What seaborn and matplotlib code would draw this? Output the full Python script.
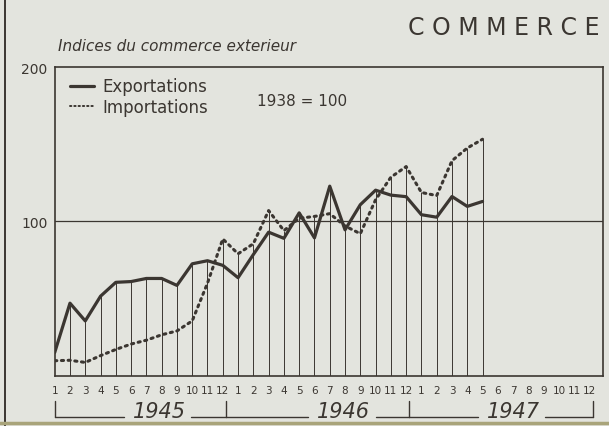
import matplotlib
matplotlib.use("Agg")
import matplotlib.pyplot as plt
import matplotlib.transforms as mtransforms
import numpy as np
import pandas as pd
import seaborn as sns

# indices mensuels, base 1938 = 100 (janv. 1945 -> mai 1947)
exportations = [15, 47, 35.5, 51.5, 60.5, 61, 63, 63, 58.5, 72.5, 74.5, 71.5,
                 63.5, 78.5, 93, 89, 105.5, 89.3, 122.8, 94.5, 110.8, 120.2, 117, 116,
                 104.3, 102.7, 116.1, 109.7, 112.9]
importations = [9.7, 10, 8.6, 13, 17, 20.5, 23, 26.5, 29, 35.5, 60, 88.6,
                79, 85.5, 107, 94, 102, 103.2, 105, 97, 92, 114, 128.6, 135.5,
                118.7, 116.7, 139.3, 147.5, 153.2]
month_labels = [str(m) for m in range(1, 13)] * 3
years = ["1945", "1946", "1947"]

INK = "#3b3631"
PAPER = "#e3e4de"

sns.set_theme(style="white")
plt.rcParams["font.family"] = ["DejaVu Sans"]

n = len(exportations)
df = pd.DataFrame({
    "mois": list(range(n)) * 2,
    "indice": exportations + importations,
    "serie": ["Exportations"] * n + ["Importations"] * n,
})

fig = plt.figure(figsize=(6.09, 4.27), dpi=100, facecolor=PAPER)
ax = fig.add_axes([0.0898, 0.1178, 0.9008, 0.7229], facecolor=PAPER)

# traits verticaux jusqu'au point le plus haut de chaque mois
tops = np.maximum(exportations, importations)
ax.vlines(range(1, n), 0, tops[1:], color=INK, lw=0.7, zorder=1)
ax.axhline(100, color=INK, lw=0.9, zorder=1)

sns.lineplot(data=df[df["serie"] == "Exportations"], x="mois", y="indice",
             color=INK, lw=2.3, ax=ax, label="Exportations", zorder=3)
sns.lineplot(data=df[df["serie"] == "Importations"], x="mois", y="indice",
             color=INK, lw=2.2, ax=ax, label="Importations", zorder=2)
ax.lines[-1].set_linestyle((0, (0.7, 1.5)))
ax.lines[-1].set_dash_capstyle("round")

ax.set_xlim(0, 35.9)
ax.set_ylim(0, 200)
ax.set_xticks(range(36))
ax.set_xticklabels(month_labels, fontsize=7.5, color=INK)
ax.set_yticks([100, 200])
ax.set_yticklabels(["100", "200"], fontsize=10, color=INK)
ax.tick_params(axis="x", length=2, width=0.6, color=INK, pad=5)
ax.tick_params(axis="y", length=0, pad=5)
ax.set_xlabel("")
ax.set_ylabel("")
for side in ["left", "right", "top", "bottom"]:
    ax.spines[side].set_color(INK)
    ax.spines[side].set_linewidth(1.2)

leg = ax.legend(loc="upper left", bbox_to_anchor=(0.0, 1.015), frameon=False,
                fontsize=12, handlelength=1.45, handletextpad=0.5,
                labelspacing=0.15)
for t in leg.get_texts():
    t.set_color(INK)
leg.get_lines()[1].set_linewidth(1.4)

ax.text(0.368, 0.891, "1938 = 100", transform=ax.transAxes, fontsize=11,
        color=INK, va="center")

# accolades des années sous l'axe
trans = mtransforms.blended_transform_factory(ax.transData, ax.transAxes)
edges = [0, 11.2, 23.2, 35.2]
ybar, ytick = -0.134, -0.083
text_pos = [6.85, 18.9, 30.0]
for i, year in enumerate(years):
    x0, x1 = edges[i], edges[i + 1]
    xt = text_pos[i]
    ax.plot([x0, xt - 2.3], [ybar, ybar], color=INK, lw=1.0,
            transform=trans, clip_on=False)
    ax.plot([xt + 2.1, x1], [ybar, ybar], color=INK, lw=1.0,
            transform=trans, clip_on=False)
    ax.text(xt, ybar - 0.012, year, transform=trans, fontsize=15,
            style="italic", color=INK, ha="center", va="bottom")
for x in edges:
    ax.plot([x, x], [ybar, ytick], color=INK, lw=1.0,
            transform=trans, clip_on=False)

fig.text(0.67, 0.935, "C O M M E R C E", fontsize=17, color=INK,
         va="center", ha="left")
fig.text(0.095, 0.89, "Indices du commerce exterieur", fontsize=11,
         style="italic", color=INK, va="center")

# cadre de la page
fig.add_artist(plt.Line2D([0.008, 0.008], [0.0, 1.0], color=INK, lw=1.4,
                          transform=fig.transFigure))
fig.add_artist(plt.Line2D([0, 1], [0.006, 0.006], color="#a9a47a", lw=2.5,
                          transform=fig.transFigure))

fig.savefig("out.png", dpi=100, facecolor=PAPER)
